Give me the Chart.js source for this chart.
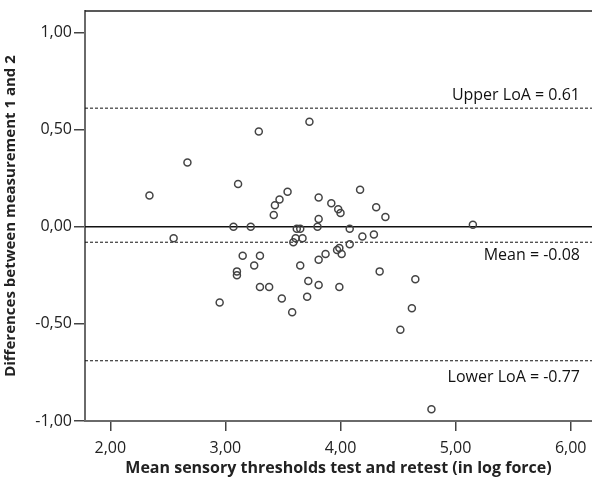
<!DOCTYPE html>
<html>
<head>
<meta charset="utf-8">
<script src="https://cdn.jsdelivr.net/npm/chart.js@4.4.1/dist/chart.umd.min.js"></script>
<style>
    html, body { margin: 0; padding: 0; background: #fff; }
</style>
</head>
<body>
<canvas id="blandAltman" width="592" height="480"></canvas>
<script>
// Axis ranges and ticks
const xMin = 1.78;
const xMax = 6.185;
const yMin = -1.0;
const yMax = 1.11;
const xTicks = [2, 3, 4, 5, 6];
const yTicks = [-1, -0.5, 0, 0.5, 1];

// Mean of test and retest (x) and difference (y)
const meanValues = [
    3.29, 2.67, 3.11, 2.34, 3.54, 3.47, 3.43, 3.42, 3.07, 3.22,
    2.55, 3.73, 3.81, 4.17, 3.92, 3.98, 4.00, 4.31, 4.39, 3.81,
    3.80, 3.62, 3.65, 4.08, 3.61, 3.67, 3.59, 4.19, 4.29, 4.08,
    3.99, 3.97, 4.01, 3.87, 3.81, 3.65, 3.15, 3.30, 3.25, 3.10,
    3.10, 4.34, 4.65, 4.62, 4.52, 4.79, 3.72, 3.81, 3.99, 3.30,
    3.38, 3.49, 3.71, 3.58, 2.95, 5.15
];
const diffValues = [
    0.49, 0.33, 0.22, 0.16, 0.18, 0.14, 0.11, 0.06, 0.00, 0.00,
    -0.06, 0.54, 0.15, 0.19, 0.12, 0.09, 0.07, 0.10, 0.05, 0.04,
    0.00, -0.01, -0.01, -0.01, -0.06, -0.06, -0.08, -0.05, -0.04, -0.09,
    -0.11, -0.12, -0.14, -0.14, -0.17, -0.20, -0.15, -0.15, -0.20, -0.23,
    -0.25, -0.23, -0.27, -0.42, -0.53, -0.94, -0.28, -0.30, -0.31, -0.31,
    -0.31, -0.37, -0.36, -0.44, -0.39, 0.01
];

// Reference lines (positions as drawn) and their captions
const zeroLine = 0;
const upperLoA = 0.61;
const meanDiff = -0.08;
const lowerLoA = -0.69;
const refLabels = ['Upper LoA = 0.61', 'Mean = -0.08', 'Lower LoA = -0.77'];

const fontFamily = '"Open Sans", "Liberation Sans", sans-serif';

function hLine(v) {
    return [{ x: xMin, y: v }, { x: xMax, y: v }];
}

function commaFmt(v) {
    return Number(v).toFixed(2).replace('.', ',');
}

// Draws top frame line and the captions next to the LoA lines
const refLabelPlugin = {
    id: 'refLabels',
    afterDatasetsDraw(chart) {
        const { ctx, chartArea, scales } = chart;
        const y = scales.y;
        ctx.save();
        ctx.strokeStyle = '#222';
        ctx.lineWidth = 1.5;
        ctx.beginPath();
        ctx.moveTo(chartArea.left, chartArea.top);
        ctx.lineTo(chartArea.right, chartArea.top);
        ctx.stroke();

        ctx.font = '16px ' + fontFamily;
        ctx.fillStyle = '#111';
        ctx.textAlign = 'right';
        ctx.textBaseline = 'middle';
        const xRight = 580;
        ctx.fillText(refLabels[0], xRight, y.getPixelForValue(upperLoA) - 13);
        ctx.fillText(refLabels[1], xRight, y.getPixelForValue(meanDiff) + 13);
        ctx.fillText(refLabels[2], xRight, y.getPixelForValue(lowerLoA) + 17);
        ctx.restore();
    }
};

const points = meanValues.map((m, i) => ({ x: m, y: diffValues[i] }));

const ctx = document.getElementById('blandAltman').getContext('2d');
const baChart = new Chart(ctx, {
    type: 'scatter',
    data: {
        datasets: [
            {
                label: 'Differences',
                data: points,
                pointRadius: 3.5,
                pointBorderWidth: 1.5,
                borderColor: '#444',
                backgroundColor: 'rgba(255,255,255,0)',
                order: 0
            },
            {
                type: 'line',
                label: 'Zero',
                data: hLine(zeroLine),
                borderColor: '#111',
                borderWidth: 1.5,
                pointRadius: 0,
                order: 1
            },
            {
                type: 'line',
                label: 'Upper LoA',
                data: hLine(upperLoA),
                borderColor: '#111',
                borderWidth: 1,
                borderDash: [3, 2],
                pointRadius: 0,
                order: 1
            },
            {
                type: 'line',
                label: 'Mean',
                data: hLine(meanDiff),
                borderColor: '#111',
                borderWidth: 1,
                borderDash: [3, 2],
                pointRadius: 0,
                order: 1
            },
            {
                type: 'line',
                label: 'Lower LoA',
                data: hLine(lowerLoA),
                borderColor: '#111',
                borderWidth: 1,
                borderDash: [3, 2],
                pointRadius: 0,
                order: 1
            }
        ]
    },
    options: {
        responsive: false,
        animation: false,
        devicePixelRatio: 1,
        layout: { autoPadding: false, padding: { top: 11, right: 0, bottom: 0, left: 0 } },
        plugins: {
            legend: { display: false },
            tooltip: { enabled: false }
        },
        scales: {
            x: {
                type: 'linear',
                min: xMin,
                max: xMax,
                afterBuildTicks: function (scale) {
                    scale.ticks = xTicks.map(v => ({ value: v }));
                },
                afterFit: function (scale) {
                    scale.height = 59;
                    scale.paddingLeft = 0;
                    scale.paddingRight = 0;
                },
                grid: { drawOnChartArea: false, drawTicks: true, tickLength: 10, color: '#444', lineWidth: 1.5 },
                border: { color: '#6a6a6a', width: 2 },
                ticks: {
                    color: '#222',
                    padding: 8,
                    font: { size: 16, family: fontFamily },
                    callback: function (value) { return commaFmt(value); }
                },
                title: {
                    display: true,
                    text: 'Mean sensory thresholds test and retest (in log force)',
                    color: '#222',
                    font: { size: 16, weight: 'bold', family: fontFamily },
                    padding: { top: 0, bottom: 2 }
                }
            },
            y: {
                min: yMin,
                max: yMax,
                afterBuildTicks: function (scale) {
                    scale.ticks = yTicks.map(v => ({ value: v }));
                },
                afterFit: function (scale) {
                    scale.width = 85;
                    scale.paddingTop = 0;
                    scale.paddingBottom = 0;
                },
                grid: { drawOnChartArea: false, drawTicks: true, tickLength: 11, color: '#444', lineWidth: 1.5 },
                border: { color: '#6a6a6a', width: 2 },
                ticks: {
                    color: '#222',
                    padding: 2,
                    font: { size: 16, family: fontFamily },
                    callback: function (value) { return commaFmt(value); }
                },
                title: {
                    display: true,
                    text: 'Differences between measurement 1 and 2',
                    color: '#222',
                    font: { size: 15, weight: 'bold', family: fontFamily },
                    padding: { top: 2, bottom: 0 }
                }
            }
        }
    },
    plugins: [refLabelPlugin]
});
</script>
</body>
</html>
